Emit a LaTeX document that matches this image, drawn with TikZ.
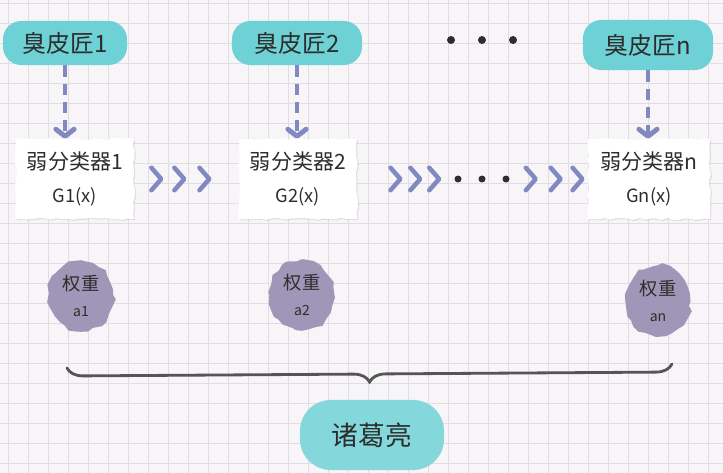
\documentclass[tikz,border=0pt]{standalone}
\usepackage{fontspec}
\setmainfont{Noto Sans CJK SC}
\usepackage{tikz}
\usetikzlibrary{shapes.geometric,arrows.meta,positioning,calc,shadows,decorations.pathmorphing,decorations.pathreplacing,decorations.markings}
\definecolor{paperbg}{RGB}{247, 245, 247}
\definecolor{gridgray}{RGB}{226, 221, 227}
\definecolor{inkteal}{RGB}{110, 209, 213}
\definecolor{inkplum}{RGB}{160, 151, 184}
\definecolor{chevblue}{RGB}{128, 137, 192}
\definecolor{pencil}{RGB}{85, 85, 85}
\definecolor{textdark}{RGB}{45, 45, 45}

\pgfmathsetseed{7}

\begin{document}
\begin{tikzpicture}[x=0.025cm, y=-0.025cm,
    tealblob/.style={rectangle, draw=none, fill=inkteal, rounded corners=13pt, minimum width=3.1cm, minimum height=1.1cm, text=textdark, font=\fontsize{17}{20}\selectfont},
    paper/.style={rectangle, draw=none, fill=white, minimum width=2.95cm, minimum height=2cm, align=center, text=textdark, font=\fontsize{15}{23}\selectfont, decorate, decoration={random steps, segment length=4pt, amplitude=0.8pt}, drop shadow={shadow xshift=0.8pt, shadow yshift=-0.8pt, opacity=0.2}},
    plumblob/.style={ellipse, draw=none, fill=inkplum, minimum width=1.55cm, minimum height=1.7cm, align=center, text=textdark, font=\fontsize{13}{18}\selectfont, decorate, decoration={random steps, segment length=5pt, amplitude=1.5pt}},
    feed/.style={-{Straight Barb[round, length=5pt, width=13pt]}, line width=3.5pt, dash pattern=on 8pt off 5pt, chevblue},
    chevs/.style n args={3}{postaction={decorate}, decoration={markings,
        mark=at position #1 with {\arrow[chevblue, line width=3.2pt]{Straight Barb[round, length=7pt, width=16pt]}},
        mark=at position #2 with {\arrow[chevblue, line width=3.2pt]{Straight Barb[round, length=7pt, width=16pt]}},
        mark=at position #3 with {\arrow[chevblue, line width=3.2pt]{Straight Barb[round, length=7pt, width=16pt]}}}},
    bracepen/.style={pencil, line width=2pt, line cap=round, decorate, decoration={brace, mirror, amplitude=0.4cm}},
    gridline/.style={gridgray, line width=0.7pt}
]
% Paper
\useasboundingbox (0,0) rectangle (723,473);
\fill[paperbg] (0,0) rectangle (723,473);
\foreach \gx in {8,28,...,720} \draw[gridline] (\gx,0) -- (\gx,473);
\foreach \gy in {3,23,...,470} \draw[gridline] (0,\gy) -- (723,\gy);

% Nodes
\node[tealblob] (t1) at (65,43) {臭皮匠1};
\node[tealblob, minimum width=3.25cm] (t2) at (297,43) {臭皮匠2};
\node[tealblob, minimum width=3.25cm, minimum height=1.25cm] (tn) at (648,45) {臭皮匠n};
\coordinate (topdots) at (482,40);

\node[paper] (g1) at (75,179) {弱分类器1\\{\fontsize{13}{15}\selectfont G1(x)}};
\node[paper] (g2) at (298,179) {弱分类器2\\{\fontsize{13}{15}\selectfont G2(x)}};
\node[paper, minimum width=3.05cm] (gn) at (649,179) {弱分类器n\\{\fontsize{13}{15}\selectfont Gn(x)}};
\node[minimum width=1.5cm, inner sep=0pt] (mdots) at (482,179) {};

\node[plumblob] (w1) at (81,296) {权重\\{\fontsize{10}{12}\selectfont a1}};
\node[plumblob] (w2) at (302,295) {权重\\{\fontsize{10}{12}\selectfont a2}};
\node[plumblob] (wn) at (658,301) {权重\\{\fontsize{10}{12}\selectfont an}};

\coordinate (bl) at (67,368);
\coordinate (br) at (672,364);
\node[tealblob, fill=inkteal!85, rounded corners=22pt, minimum width=3.6cm, minimum height=1.75cm, font=\fontsize{19}{22}\selectfont] (zgl) at (372,435) {诸葛亮};

% Dots
\foreach \dx in {-31,0,31} \fill[textdark] ($(topdots)+(\dx,0)$) circle (4);
\foreach \dx in {-24,0,24} \fill[textdark] ($(mdots)+(\dx,0)$) circle (3.5);

% Arrows
\draw[feed] (t1) -- (t1 |- g1.north);
\draw[feed] (t2) -- (t2 |- g2.north);
\draw[feed] (tn) -- (tn |- gn.north);
\path[chevs={0.28}{0.5}{0.74}] (g1) -- (g2);
\path[chevs={0.48}{0.69}{0.89}] (g2) -- (mdots);
\path[chevs={0.34}{0.67}{0.96}] (mdots) -- (gn);

% Brace
\draw[bracepen] (bl) -- (br);
\end{tikzpicture}
\end{document}
